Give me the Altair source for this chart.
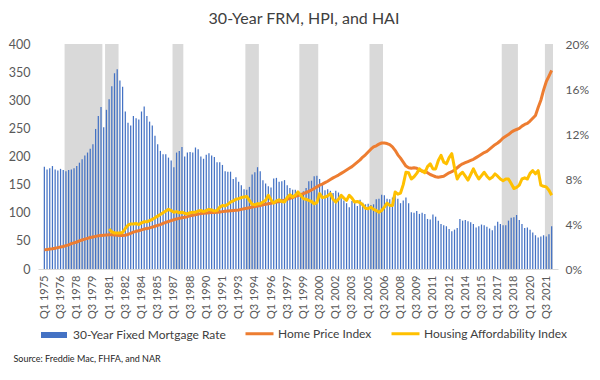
import altair as alt
import pandas as pd

# ---------------- data (quarterly, Q1 1975 .. Q1 2022) ----------------
start_year = 1975

# 30-year fixed mortgage rate, %
frm = [
    9.1, 8.85, 8.95, 9.15,
    8.85, 8.75, 8.9, 8.8,
    8.7, 8.8, 8.85, 8.95,
    9.15, 9.45, 9.75, 10.1,
    10.35, 10.7, 11.1, 12.45,
    13.6, 14.4, 12.6, 14.15,
    15.1, 16.25, 17.4, 17.75,
    16.75, 16.2, 14.0, 13.0,
    12.75, 13.6, 13.4, 13.3,
    14.0, 14.45, 13.6, 13.1,
    12.75, 11.85, 11.1, 10.5,
    10.2, 10.2, 9.9, 9.65,
    9.05, 10.35, 10.5, 10.85,
    10.0, 10.35, 10.4, 10.35,
    10.8, 10.65, 10.0, 9.8,
    10.15, 10.3, 10.1, 9.95,
    9.5, 9.5, 9.25, 8.7,
    8.65, 8.65, 8.0, 8.15,
    7.75, 7.45, 7.1, 7.05,
    7.3, 8.4, 8.6, 9.05,
    8.7, 7.9, 7.6, 7.35,
    7.25, 8.05, 8.1, 7.75,
    7.8, 7.9, 7.45, 7.2,
    7.05, 7.05, 6.9, 6.75,
    6.9, 7.2, 7.8, 7.85,
    8.25, 8.3, 8.0, 7.6,
    7.0, 7.1, 6.95, 6.75,
    6.95, 6.8, 6.3, 6.1,
    5.85, 5.5, 6.05, 5.95,
    5.6, 6.15, 5.9, 5.75,
    5.8, 5.7, 5.75, 6.2,
    6.25, 6.6, 6.55, 6.25,
    6.2, 6.35, 6.55, 6.25,
    5.85, 6.1, 6.35, 5.85,
    5.05, 5.0, 5.15, 4.9,
    5.0, 4.9, 4.45, 4.4,
    4.85, 4.65, 4.3, 4.0,
    3.9, 3.8, 3.55, 3.35,
    3.5, 3.65, 4.45, 4.3,
    4.35, 4.25, 4.15, 4.0,
    3.7, 3.8, 3.95, 3.9,
    3.75, 3.6, 3.45, 3.85,
    4.2, 4.0, 3.9, 3.9,
    4.3, 4.55, 4.6, 4.8,
    4.35, 4.0, 3.65, 3.7,
    3.5, 3.25, 3.0, 2.8,
    2.9, 3.0, 2.9, 3.1,
    3.8,
]

# Home Price Index
hpi = [
    34, 34.5, 35.5, 36,
    37, 38, 39, 40,
    41.5, 43, 45, 46.5,
    48, 50, 51.5, 53,
    54.5, 56, 57, 58,
    59, 59.5, 60, 60.5,
    61, 61, 60.5, 60,
    59.5, 59.5, 60, 61.5,
    63.5, 65.5, 67, 68,
    69.5, 71, 72, 73,
    74.5, 76, 77.5, 79,
    81, 83, 84.5, 86,
    87.5, 89, 90, 91,
    92, 93, 94.5, 95.5,
    96.5, 97.5, 98.5, 99,
    99.5, 100, 100.5, 100.5,
    101, 101.5, 102, 102.5,
    103, 103.5, 104, 104.5,
    105, 106, 107, 108,
    109, 110, 111, 112,
    113, 114, 115, 116,
    117, 118, 119, 120,
    121, 122.5, 124, 125.5,
    127, 129, 130.5, 132,
    134, 136, 138, 140.5,
    143, 146, 149, 151,
    153.5, 156, 159, 162,
    164.5, 167, 170, 173,
    176, 179, 182, 186,
    190, 194, 199, 203,
    208, 213, 217, 219,
    222, 224, 224, 223,
    221, 217, 211, 203,
    197, 190, 183, 180,
    179, 180, 179, 176,
    174, 174, 171, 168,
    166, 164, 163, 164,
    165, 168, 171, 173,
    176, 180, 184, 187,
    189, 191, 193, 195,
    198, 201, 204, 207,
    209, 213, 217, 221,
    224, 228, 233, 236,
    239, 243, 246, 248,
    250, 254, 257, 259,
    263, 268, 273, 287,
    300, 318, 333, 343,
    353,
]

# Housing Affordability Index (from Q1 1981)
hai_first_quarter = 24
hai = [
    71, 66, 64, 64,
    64, 65, 72, 78,
    80, 80, 81, 79,
    82, 84, 84, 86,
    88, 91, 94, 97,
    100, 103, 106, 104,
    101, 102, 100, 101,
    99, 98, 100, 101,
    101, 103, 104, 102,
    104, 106, 105, 103,
    104, 110, 113, 112,
    115, 119, 121, 124,
    125, 127, 128, 129,
    122, 115, 114, 116,
    116, 119, 122, 131,
    123, 117, 121, 123,
    120, 119, 127, 132,
    128, 131, 137, 131,
    125, 124, 122, 120,
    116, 118, 134, 127,
    128, 130, 134, 124,
    119, 124, 131, 126,
    122, 131, 126, 119,
    120, 118, 114, 108,
    107, 110, 106, 104,
    101, 104, 110, 117,
    113, 113, 137, 133,
    135, 150, 172, 171,
    160, 164, 170, 178,
    174, 171, 182, 187,
    178, 178, 193, 202,
    190, 187, 198, 205,
    180, 160, 168, 172,
    165, 158, 168, 178,
    168, 160, 166, 172,
    165, 160, 163, 169,
    165, 160, 157, 160,
    160, 152, 143, 145,
    149, 160, 162, 160,
    170, 175, 169, 175,
    149, 147, 146, 140,
    131,
]

# shaded periods (first and last quarter index, inclusive)
band_first = [8, 23, 48, 75, 95, 121, 170, 186]
band_last = [21, 27, 51, 79, 101, 125, 175, 188]

tick_step = 6
series_names = ["30-Year Fixed Mortgage Rate", "Home Price Index", "Housing Affordability Index"]
source_text = "Source: Freddie Mac, FHFA, and NAR"
title_text = "30-Year FRM, HPI, and HAI"

# ---------------- frames ----------------
n = len(frm)
df = pd.DataFrame({
    "q": list(range(n)),
    "frm": [v / 100 for v in frm],
    series_names[1]: hpi,
    series_names[2]: [None] * hai_first_quarter + hai,
})
bands = pd.DataFrame({"s": band_first, "e": band_last})

W, H = 520, 225
FONT = "Lato"
GREY_TXT = "#595959"

xs = alt.Scale(domain=[-0.5, n - 0.5], nice=False, zero=False)
x_axis = alt.Axis(
    values=list(range(0, n, tick_step)),
    labelExpr=f"'Q' + (datum.value % 4 + 1) + ' ' + ({start_year} + floor(datum.value / 4))",
    labelAngle=-90, ticks=False, grid=False, domainColor="#D9D9D9",
    labelFontSize=11, labelColor=GREY_TXT, labelFont=FONT, title=None, labelPadding=6,
)

band_layer = alt.Chart(bands).transform_calculate(
    x0="datum.s - 0.5", x1="datum.e + 0.5"
).mark_rect(color="#D9D9D9").encode(
    x=alt.X("x0:Q", scale=xs, axis=x_axis),
    x2="x1:Q",
    y=alt.value(0),
    y2=alt.value(H),
)

bar_layer = alt.Chart(df).transform_calculate(
    lab=f"'{series_names[0]}'"
).mark_bar(size=1.25).encode(
    x=alt.X("q:Q", scale=xs, axis=x_axis),
    y=alt.Y("frm:Q", scale=alt.Scale(domain=[0, 0.2], nice=False),
            axis=alt.Axis(orient="right", format=".0%", values=[0, 0.04, 0.08, 0.12, 0.16, 0.2],
                          grid=False, ticks=False, domain=False, labelFontSize=12,
                          labelColor=GREY_TXT, labelFont=FONT, title=None, labelPadding=7)),
    fill=alt.Fill("lab:N", scale=alt.Scale(domain=[series_names[0]], range=["#4472C4"]),
                  legend=alt.Legend(orient="none", legendX=0, legendY=H + 50, title=None,
                                    symbolType="stroke", symbolSize=676,
                                    symbolStrokeColor="#4472C4", symbolStrokeWidth=6,
                                    labelFontSize=12, labelColor="#404040", labelLimit=400,
                                    labelFont=FONT, labelOffset=3, padding=0)),
)

line_layer = alt.Chart(df).transform_fold(
    series_names[1:], as_=["series", "val"]
).mark_line(strokeWidth=3, strokeJoin="round").encode(
    x=alt.X("q:Q", scale=xs, axis=x_axis),
    y=alt.Y("val:Q", scale=alt.Scale(domain=[0, 400], nice=False),
            axis=alt.Axis(orient="left", values=list(range(0, 401, 50)), grid=False, ticks=False,
                          domain=False, labelFontSize=12.5, labelColor=GREY_TXT, labelFont=FONT,
                          title=None, labelPadding=8)),
    stroke=alt.Stroke("series:N", scale=alt.Scale(domain=series_names[1:], range=["#ED7D31", "#FFC000"]),
                      legend=alt.Legend(orient="none", legendX=206, legendY=H + 49, title=None,
                                        direction="horizontal", symbolType="stroke", symbolSize=784,
                                        symbolStrokeWidth=3, labelFontSize=12, labelColor="#404040",
                                        labelLimit=400, labelFont=FONT, labelOffset=3,
                                        columnPadding=13, padding=0)),
)

src_layer = alt.Chart(pd.DataFrame({"t": [source_text]})).mark_text(
    align="left", baseline="middle", fontSize=9, font=FONT, color="#262626"
).encode(x=alt.value(-24.5), y=alt.value(H + 90), text="t:N")

chart = alt.layer(band_layer, bar_layer, line_layer, src_layer).resolve_scale(
    y="independent"
).properties(
    width=W, height=H,
    title=alt.TitleParams(title_text, fontSize=16, font=FONT, fontWeight="normal",
                          color="#404040", anchor="middle", offset=11, dx=6),
    padding={"left": 0, "top": 3, "right": 0, "bottom": 0},
).configure_view(stroke=None)

chart.save("out.html", embed_options={"renderer": "svg", "actions": False})
